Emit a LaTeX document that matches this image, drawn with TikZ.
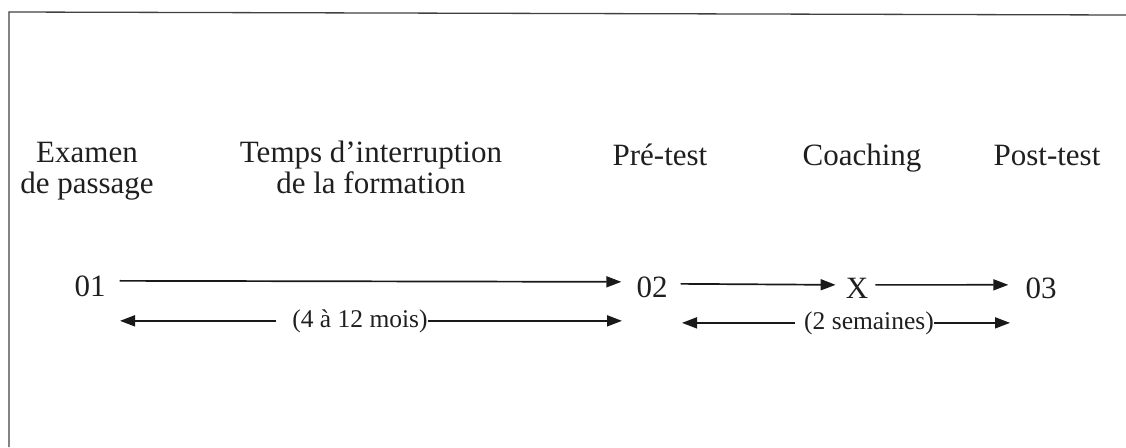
\documentclass[tikz,border=0pt]{standalone}
\usepackage{fontspec}
\setmainfont{Liberation Serif}
\usetikzlibrary{arrows.meta}
\begin{document}
\begin{tikzpicture}[x=1pt,y=-1pt,
  big/.style={font=\fontsize{31}{31}\selectfont, inner sep=0pt, anchor=base, align=center, text=black!88},
  small/.style={font=\fontsize{25.5}{26}\selectfont, inner sep=0pt, anchor=base, text=black!88},
  arr/.style={-{Triangle[length=15pt,width=11pt]}, line width=1.7pt, draw=black!90},
  frame/.style={line width=1.3pt, draw=black!75}]
\useasboundingbox (0,0) rectangle (1126,447);

% open frame: left side and top edge
\draw[frame] (9,447) -- (9,12) -- (1126,15);

% stage headings (base = baseline of the last line)
\node[big] (hExam)  at (87,193)   {Examen\\de passage};
\node[big] (hTemps) at (371,193)  {Temps d’interruption\\de la formation};
\node[big] (hPre)   at (660,165)  {Pré-test};
\node[big] (hCoach) at (862,165)  {Coaching};
\node[big] (hPost)  at (1047,165) {Post-test};

% design sequence
\node[big] (o1) at (90,296)   {01};
\node[big] (o2) at (652,297)  {02};
\node[big] (xx) at (857,298)  {X};
\node[big] (o3) at (1041,298) {03};

\draw[arr] ([xshift=14pt,yshift=5pt]o1.east) -- ([xshift=-15pt,yshift=5pt]o2.west);
\draw[arr] ([xshift=13pt,yshift=3pt]o2.east) -- ([xshift=-10pt,yshift=3pt]xx.west);
\draw[arr] ([xshift=7pt,yshift=3pt]xx.east) -- ([xshift=-17pt,yshift=3pt]o3.west);

% durations
\coordinate (d1l) at (120,0);
\coordinate (d1r) at (622,0);
\coordinate (d2l) at (682,0);
\coordinate (d2r) at (1010,0);
\node[small] (m1) at (360,327) {(4 à 12 mois)};
\node[small] (m2) at (869,329) {(2 semaines)};

\draw[arr] ([xshift=-16pt]m1.west) -- (m1.west -| d1l);
\draw[arr] (m1.east) -- (m1.east -| d1r);
\draw[arr] ([xshift=-9pt]m2.west) -- (m2.west -| d2l);
\draw[arr] (m2.east) -- (m2.east -| d2r);
\end{tikzpicture}
\end{document}
